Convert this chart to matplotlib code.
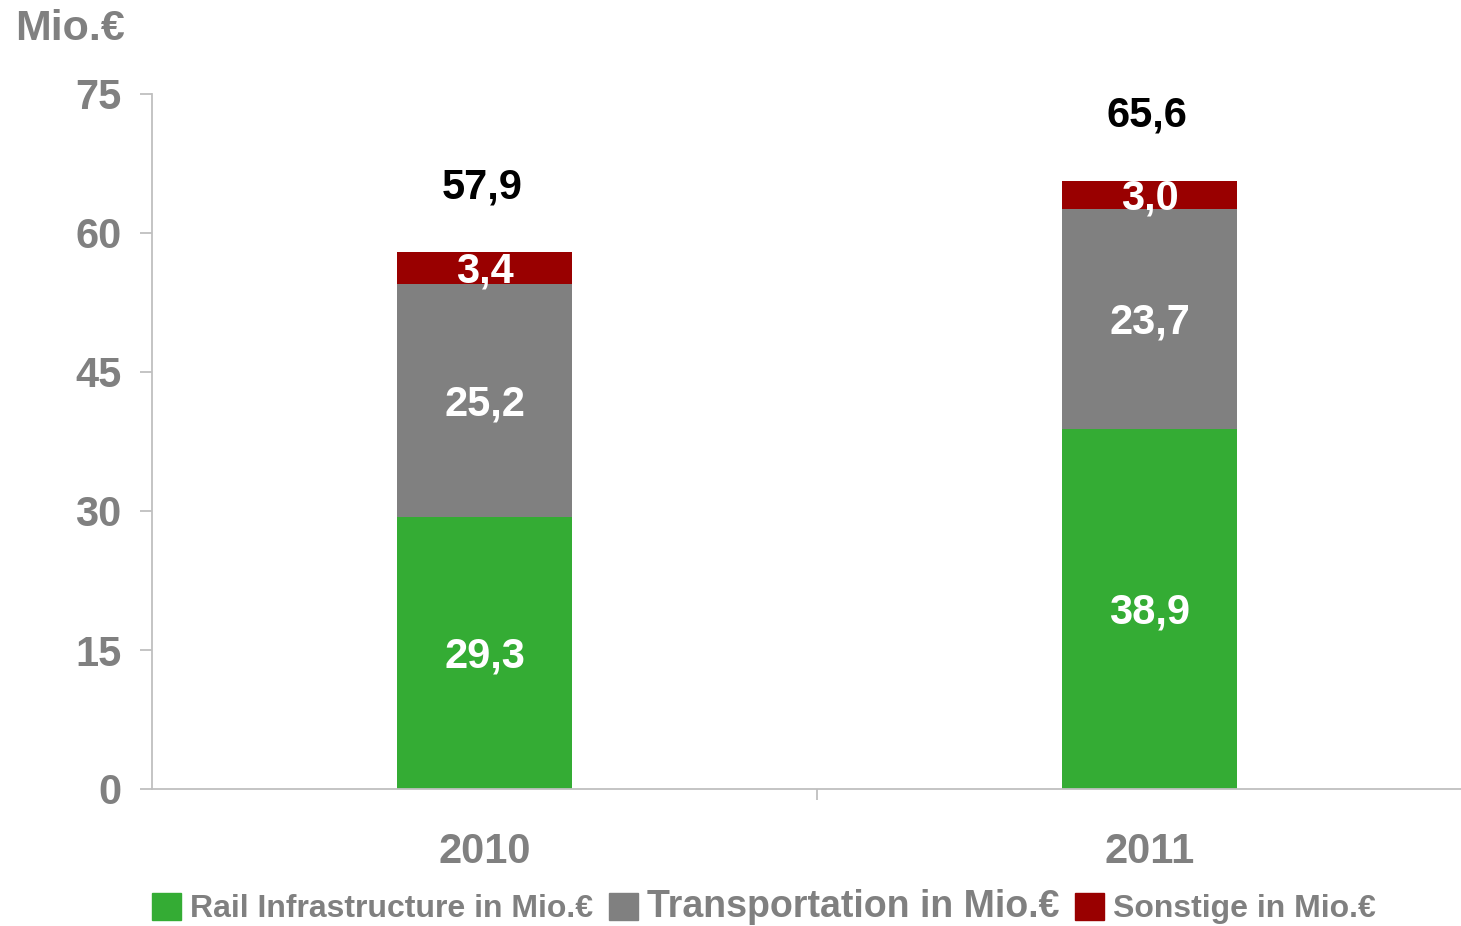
import matplotlib
matplotlib.use("Agg")
import matplotlib.pyplot as plt
from matplotlib.patches import Patch
from matplotlib import font_manager as fm
import numpy as np

years = ["2010", "2011"]
rail = [29.3, 38.9]
transport = [25.2, 23.7]
sonstige = [3.4, 3.0]
totals = [57.9, 65.6]
rail_lbl = ["29,3", "38,9"]
transport_lbl = ["25,2", "23,7"]
sonstige_lbl = ["3,4", "3,0"]
total_lbl = ["57,9", "65,6"]
yticks = [0, 15, 30, 45, 60, 75]
series_names = ["Rail Infrastructure in Mio.€", "Transportation in Mio.€", "Sonstige in Mio.€"]

names = {f.name for f in fm.fontManager.ttflist}
FONT = "Liberation Sans" if "Liberation Sans" in names else "DejaVu Sans"
NARROW = "Liberation Sans Narrow" if "Liberation Sans Narrow" in names else FONT
plt.rcParams["font.family"] = [FONT, "DejaVu Sans"]

GREEN = "#34AC34"
GREY = "#808080"
RED = "#990000"
TXT = "#808080"
AX = "#BFBFBF"

fig = plt.figure(figsize=(14.61, 9.26), dpi=100)
W, H = 1461, 926
ax = fig.add_axes([152 / W, 1 - 789 / H, (1482 - 152) / W, (789 - 94) / H])

x = np.arange(len(years))
width = 0.263
ax.bar(x, rail, width, color=GREEN)
ax.bar(x, transport, width, bottom=rail, color=GREY)
bottom3 = [r + t for r, t in zip(rail, transport)]
ax.bar(x, sonstige, width, bottom=bottom3, color=RED)

ax.set_xlim(-0.5, 1.5)
ax.set_ylim(0, 75)
ax.set_yticks(yticks)
ax.set_yticklabels([str(v) for v in yticks])
ax.set_xticks(x)
ax.set_xticklabels(years)
ax.set_xticks([0.5], minor=True)

for s in ["top", "right"]:
    ax.spines[s].set_visible(False)
for s in ["left", "bottom"]:
    ax.spines[s].set_color(AX)
    ax.spines[s].set_linewidth(1.3)

ax.tick_params(axis="y", length=9, width=1.3, color=AX, pad=13,
               labelsize=30, labelcolor=TXT)
ax.tick_params(axis="x", which="major", length=0, pad=31, labelsize=30, labelcolor=TXT)
ax.tick_params(axis="x", which="minor", length=8, width=1.3, color=AX)
for lab in ax.get_yticklabels() + ax.get_xticklabels():
    lab.set_fontweight("bold")

seg_kw = dict(xytext=(0, -2.5), textcoords="offset points", ha="center", va="center",
              color="white", fontsize=30, fontweight="bold")
for i in range(len(years)):
    ax.annotate(rail_lbl[i], (x[i], rail[i] / 2), **seg_kw)
    ax.annotate(transport_lbl[i], (x[i], rail[i] + transport[i] / 2), **seg_kw)
    ax.annotate(sonstige_lbl[i], (x[i], bottom3[i] + sonstige[i] / 2), **seg_kw)
    ax.annotate(total_lbl[i], (x[i], totals[i]), xytext=(-2, 47), textcoords="offset points",
                ha="center", va="center", color="black", fontsize=30, fontweight="bold")

fig.text(15 / W, 1 - 29 / H, "Mio.€", ha="left", va="center", color=TXT,
         fontsize=31, fontweight="bold")

handles = [Patch(color=GREEN), Patch(color=GREY), Patch(color=RED)]
leg = fig.legend(handles, series_names, loc="center", ncol=3,
                 bbox_to_anchor=(764 / W, 1 - 907 / H), frameon=False,
                 handlelength=0.95, handleheight=0.95, handletextpad=0.3,
                 columnspacing=0.5, borderaxespad=0, prop={"size": 22})
texts = leg.get_texts()
for t, fam, sz in zip(texts, [NARROW, FONT, NARROW], [23, 27, 23]):
    t.set_fontfamily(fam)
    t.set_fontsize(sz)
    t.set_fontweight("bold")
    t.set_color(TXT)

fig.savefig("out.png", dpi=100)
